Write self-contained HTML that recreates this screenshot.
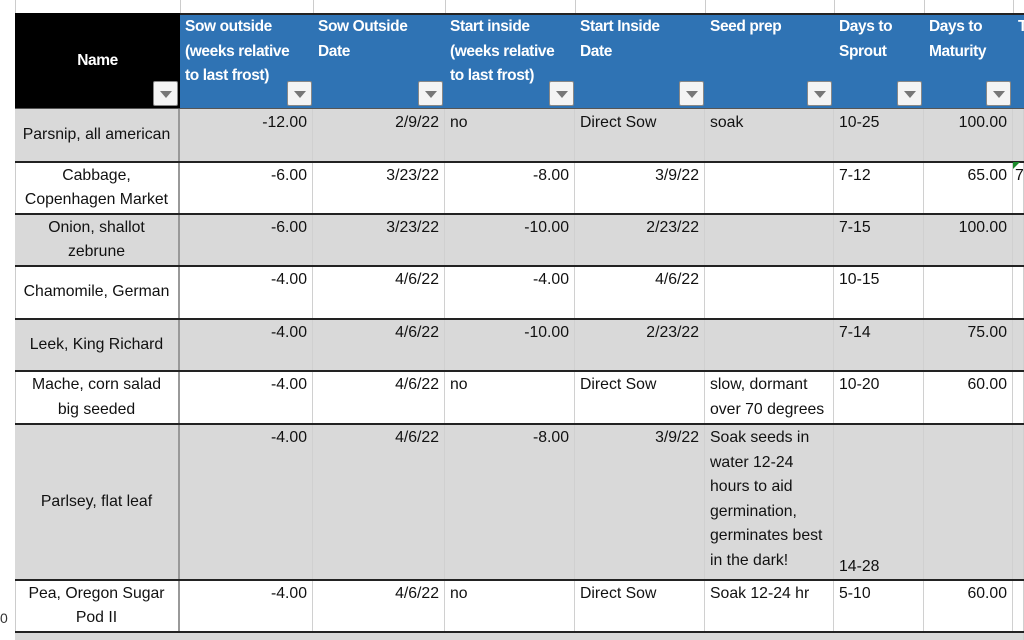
<!DOCTYPE html>
<html><head><meta charset="utf-8"><style>
*{margin:0;padding:0;box-sizing:border-box}
body{width:1024px;height:640px;overflow:hidden;background:#fff;position:relative;font-family:"Liberation Sans",sans-serif;font-size:15.8px;color:#111}
.c{position:absolute;border-right:1px solid #d0d0d0;overflow:hidden;line-height:24.5px;padding:2px 5px 0 5px;white-space:nowrap}
.g{background:#d9d9d9}
.r{text-align:right}
.n{text-align:center;white-space:normal;display:flex;align-items:center;justify-content:center;padding:0 4px;border-right:2px solid #999}
.h{position:absolute;top:13px;height:96px;background:#2f73b4;color:#fff;font-weight:bold;line-height:24.5px;padding:2px 5px;font-size:15.5px;letter-spacing:-0.4px;white-space:nowrap}
.f{position:absolute;width:25px;height:25px;background:#f4f4f4;border:1px solid #888;border-radius:2px}
.f:after{content:"";position:absolute;left:6px;top:9px;border-left:6px solid transparent;border-right:6px solid transparent;border-top:7px solid #777}
.line{position:absolute;left:15px;right:0;height:2px;background:#222}
</style></head><body>
<div style="position:absolute;left:15px;top:0;width:1px;height:640px;background:#ccc"></div>
<div style="position:absolute;left:180px;top:0;width:1px;height:13px;background:#ccc"></div>
<div style="position:absolute;left:313px;top:0;width:1px;height:13px;background:#ccc"></div>
<div style="position:absolute;left:445px;top:0;width:1px;height:13px;background:#ccc"></div>
<div style="position:absolute;left:575px;top:0;width:1px;height:13px;background:#ccc"></div>
<div style="position:absolute;left:705px;top:0;width:1px;height:13px;background:#ccc"></div>
<div style="position:absolute;left:834px;top:0;width:1px;height:13px;background:#ccc"></div>
<div style="position:absolute;left:924px;top:0;width:1px;height:13px;background:#ccc"></div>
<div style="position:absolute;left:1013px;top:0;width:1px;height:13px;background:#ccc"></div>

<div class="h" style="left:15px;width:165px;background:#000;display:flex;align-items:center;justify-content:center">Name</div>
<div class="h" style="left:180px;width:133px">Sow outside<br>(weeks relative<br>to last frost)</div>
<div class="h" style="left:313px;width:132px">Sow Outside<br>Date</div>
<div class="h" style="left:445px;width:130px">Start inside<br>(weeks relative<br>to last frost)</div>
<div class="h" style="left:575px;width:130px">Start Inside<br>Date</div>
<div class="h" style="left:705px;width:129px">Seed prep</div>
<div class="h" style="left:834px;width:90px">Days to<br>Sprout</div>
<div class="h" style="left:924px;width:89px">Days to<br>Maturity</div>
<div class="h" style="left:1013px;width:11px">T</div>
<div style="position:absolute;left:180px;right:0;top:13px;height:2px;background:#222"></div>
<div class="f" style="left:153px;top:81px"></div>
<div class="f" style="left:287px;top:81px"></div>
<div class="f" style="left:418px;top:81px"></div>
<div class="f" style="left:549px;top:81px"></div>
<div class="f" style="left:679px;top:81px"></div>
<div class="f" style="left:807px;top:81px"></div>
<div class="f" style="left:897px;top:81px"></div>
<div class="f" style="left:986px;top:81px"></div>

<div class="c g n" style="left:15px;top:109px;width:165px;height:53px">Parsnip, all american</div>
<div class="c g r" style="left:180px;top:109px;width:133px;height:53px">-12.00</div>
<div class="c g r" style="left:313px;top:109px;width:132px;height:53px">2/9/22</div>
<div class="c g" style="left:445px;top:109px;width:130px;height:53px">no</div>
<div class="c g" style="left:575px;top:109px;width:130px;height:53px">Direct Sow</div>
<div class="c g" style="left:705px;top:109px;width:129px;height:53px">soak</div>
<div class="c g" style="left:834px;top:109px;width:90px;height:53px">10-25</div>
<div class="c g r" style="left:924px;top:109px;width:89px;height:53px">100.00</div>
<div class="c g" style="left:1013px;top:109px;width:11px;height:53px"></div>

<div class="c n" style="left:15px;top:162px;width:165px;height:52px">Cabbage,<br>Copenhagen Market</div>
<div class="c r" style="left:180px;top:162px;width:133px;height:52px">-6.00</div>
<div class="c r" style="left:313px;top:162px;width:132px;height:52px">3/23/22</div>
<div class="c r" style="left:445px;top:162px;width:130px;height:52px">-8.00</div>
<div class="c r" style="left:575px;top:162px;width:130px;height:52px">3/9/22</div>
<div class="c" style="left:705px;top:162px;width:129px;height:52px"></div>
<div class="c" style="left:834px;top:162px;width:90px;height:52px">7-12</div>
<div class="c r" style="left:924px;top:162px;width:89px;height:52px">65.00</div>
<div class="c" style="left:1013px;top:162px;width:11px;height:52px;padding-left:2px">7</div>

<div class="c g n" style="left:15px;top:214px;width:165px;height:52px">Onion, shallot<br>zebrune</div>
<div class="c g r" style="left:180px;top:214px;width:133px;height:52px">-6.00</div>
<div class="c g r" style="left:313px;top:214px;width:132px;height:52px">3/23/22</div>
<div class="c g r" style="left:445px;top:214px;width:130px;height:52px">-10.00</div>
<div class="c g r" style="left:575px;top:214px;width:130px;height:52px">2/23/22</div>
<div class="c g" style="left:705px;top:214px;width:129px;height:52px"></div>
<div class="c g" style="left:834px;top:214px;width:90px;height:52px">7-15</div>
<div class="c g r" style="left:924px;top:214px;width:89px;height:52px">100.00</div>
<div class="c g" style="left:1013px;top:214px;width:11px;height:52px"></div>

<div class="c n" style="left:15px;top:266px;width:165px;height:53px">Chamomile, German</div>
<div class="c r" style="left:180px;top:266px;width:133px;height:53px">-4.00</div>
<div class="c r" style="left:313px;top:266px;width:132px;height:53px">4/6/22</div>
<div class="c r" style="left:445px;top:266px;width:130px;height:53px">-4.00</div>
<div class="c r" style="left:575px;top:266px;width:130px;height:53px">4/6/22</div>
<div class="c" style="left:705px;top:266px;width:129px;height:53px"></div>
<div class="c" style="left:834px;top:266px;width:90px;height:53px">10-15</div>
<div class="c r" style="left:924px;top:266px;width:89px;height:53px"></div>
<div class="c" style="left:1013px;top:266px;width:11px;height:53px"></div>

<div class="c g n" style="left:15px;top:319px;width:165px;height:52px">Leek, King Richard</div>
<div class="c g r" style="left:180px;top:319px;width:133px;height:52px">-4.00</div>
<div class="c g r" style="left:313px;top:319px;width:132px;height:52px">4/6/22</div>
<div class="c g r" style="left:445px;top:319px;width:130px;height:52px">-10.00</div>
<div class="c g r" style="left:575px;top:319px;width:130px;height:52px">2/23/22</div>
<div class="c g" style="left:705px;top:319px;width:129px;height:52px"></div>
<div class="c g" style="left:834px;top:319px;width:90px;height:52px">7-14</div>
<div class="c g r" style="left:924px;top:319px;width:89px;height:52px">75.00</div>
<div class="c g" style="left:1013px;top:319px;width:11px;height:52px"></div>

<div class="c n" style="left:15px;top:371px;width:165px;height:53px">Mache, corn salad<br>big seeded</div>
<div class="c r" style="left:180px;top:371px;width:133px;height:53px">-4.00</div>
<div class="c r" style="left:313px;top:371px;width:132px;height:53px">4/6/22</div>
<div class="c" style="left:445px;top:371px;width:130px;height:53px">no</div>
<div class="c" style="left:575px;top:371px;width:130px;height:53px">Direct Sow</div>
<div class="c" style="left:705px;top:371px;width:129px;height:53px">slow, dormant<br>over 70 degrees</div>
<div class="c" style="left:834px;top:371px;width:90px;height:53px">10-20</div>
<div class="c r" style="left:924px;top:371px;width:89px;height:53px">60.00</div>
<div class="c" style="left:1013px;top:371px;width:11px;height:53px"></div>

<div class="c g n" style="left:15px;top:424px;width:165px;height:156px">Parlsey, flat leaf</div>
<div class="c g r" style="left:180px;top:424px;width:133px;height:156px">-4.00</div>
<div class="c g r" style="left:313px;top:424px;width:132px;height:156px">4/6/22</div>
<div class="c g r" style="left:445px;top:424px;width:130px;height:156px">-8.00</div>
<div class="c g r" style="left:575px;top:424px;width:130px;height:156px">3/9/22</div>
<div class="c g" style="left:705px;top:424px;width:129px;height:156px">Soak seeds in<br>water 12-24<br>hours to aid<br>germination,<br>germinates best<br>in the dark!</div>
<div class="c g" style="left:834px;top:424px;width:90px;height:156px;padding-top:131px">14-28</div>
<div class="c g r" style="left:924px;top:424px;width:89px;height:156px"></div>
<div class="c g" style="left:1013px;top:424px;width:11px;height:156px"></div>

<div class="c n" style="left:15px;top:580px;width:165px;height:52px">Pea, Oregon Sugar<br>Pod II</div>
<div class="c r" style="left:180px;top:580px;width:133px;height:52px">-4.00</div>
<div class="c r" style="left:313px;top:580px;width:132px;height:52px">4/6/22</div>
<div class="c" style="left:445px;top:580px;width:130px;height:52px">no</div>
<div class="c" style="left:575px;top:580px;width:130px;height:52px">Direct Sow</div>
<div class="c" style="left:705px;top:580px;width:129px;height:52px">Soak 12-24 hr</div>
<div class="c" style="left:834px;top:580px;width:90px;height:52px">5-10</div>
<div class="c r" style="left:924px;top:580px;width:89px;height:52px">60.00</div>
<div class="c" style="left:1013px;top:580px;width:11px;height:52px"></div>
<div class="c g" style="left:15px;top:632px;width:1009px;height:8px"></div>

<div class="line" style="top:108px;background:#555;height:1px"></div>
<div class="line" style="top:161px"></div>
<div class="line" style="top:213px"></div>
<div class="line" style="top:265px"></div>
<div class="line" style="top:318px"></div>
<div class="line" style="top:370px"></div>
<div class="line" style="top:423px"></div>
<div class="line" style="top:579px"></div>
<div class="line" style="top:631px"></div>
<div style="position:absolute;left:1013px;top:162px;width:0;height:0;border-top:7px solid #1a8a2a;border-right:7px solid transparent"></div>
<div style="position:absolute;left:0;top:610px;font-size:14px;color:#333">0</div>
</body></html>
